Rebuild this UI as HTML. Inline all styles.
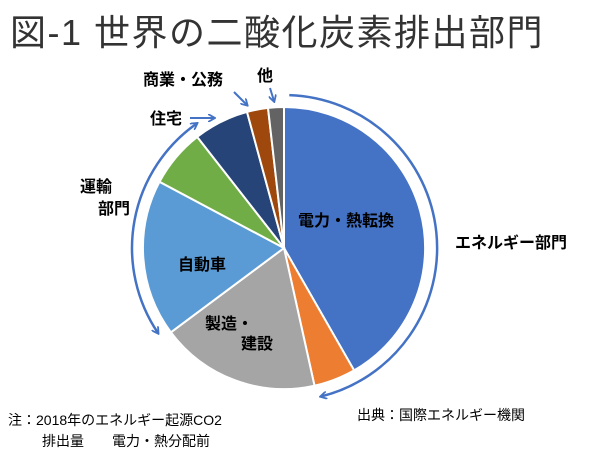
<!DOCTYPE html>
<html><head><meta charset="utf-8"><style>
html,body{margin:0;padding:0;background:#fff;}
svg{display:block;font-family:"Liberation Sans","Noto Sans CJK JP",sans-serif;}
</style></head><body>
<svg width="600" height="458" viewBox="0 0 600 458" xmlns="http://www.w3.org/2000/svg">
<defs>
<marker id="ah" markerWidth="8" markerHeight="8" refX="6" refY="4" orient="auto-start-reverse" markerUnits="userSpaceOnUse">
<path d="M0,0 L7,4 L0,8" fill="none" stroke="#4472C4" stroke-width="1.8"/>
</marker>
</defs>
<text x="10" y="45" font-size="36" fill="#333" letter-spacing="1.5">図-1  世界の二酸化炭素排出部門</text>
<g stroke="#fff" stroke-width="2">
<path id="s1" fill="#4472C4"/>
<path id="s2" fill="#ED7D31"/>
<path id="s3" fill="#A5A5A5"/>
<path id="s4" fill="#5B9BD5"/>
<path id="s5" fill="#70AD47"/>
<path id="s6" fill="#264478"/>
<path id="s7" fill="#9E480E"/>
<path id="s8" fill="#636363"/>
</g>
<path id="arcR" fill="none" stroke="#4472C4" stroke-width="2.5" marker-end="url(#ah)"/>
<path id="arcL" fill="none" stroke="#4472C4" stroke-width="2.5" marker-end="url(#ah)" marker-start="url(#ah)"/>
<line x1="190" y1="118" x2="214" y2="118" stroke="#4472C4" stroke-width="2" marker-end="url(#ah)"/>
<line x1="234" y1="92" x2="247" y2="105" stroke="#4472C4" stroke-width="2" marker-end="url(#ah)"/>
<line x1="270" y1="88" x2="274" y2="101" stroke="#4472C4" stroke-width="2" marker-end="url(#ah)"/>
<g font-size="16" fill="#000" font-weight="bold">
<text x="298" y="226">電力・熱転換</text>
<text x="178" y="270">自動車</text>
<text x="205" y="329">製造・</text>
<text x="241" y="349">建設</text>
<text x="455" y="248">エネルギー部門</text>
<text x="80" y="192">運輸</text>
<text x="98" y="214">部門</text>
<text x="150" y="124">住宅</text>
<text x="143" y="85">商業・公務</text>
<text x="257" y="81">他</text>
</g>
<g font-size="14" fill="#000">
<text x="8" y="425">注：2018年のエネルギー起源CO2</text>
<text x="42" y="446">排出量　　電力・熱分配前</text>
<text x="357" y="420">出典：国際エネルギー機関</text>
</g>
<script>
var cx=284,cy=248,r=141;
function p(a,rr){a=a*Math.PI/180;return [(cx+rr*Math.sin(a)).toFixed(1),(cy-rr*Math.cos(a)).toFixed(1)];}
var b=[0,150.2,167.5,233.3,298,322,344.8,353.5,360];
for(var i=0;i<8;i++){var s=p(b[i],r),e=p(b[i+1],r),l=(b[i+1]-b[i])>180?1:0;
document.getElementById('s'+(i+1)).setAttribute('d','M'+cx+','+cy+' L'+s+' A'+r+','+r+' 0 '+l+' 1 '+e+' Z');}
var R=153,s=p(2,R),e=p(166,R);
document.getElementById('arcR').setAttribute('d','M'+s+' A'+R+','+R+' 0 0 1 '+e);
var R2=152,s2=p(325,R2),e2=p(236,R2);
document.getElementById('arcL').setAttribute('d','M'+s2+' A'+R2+','+R2+' 0 0 0 '+e2);
</script>
</svg>
</body></html>
